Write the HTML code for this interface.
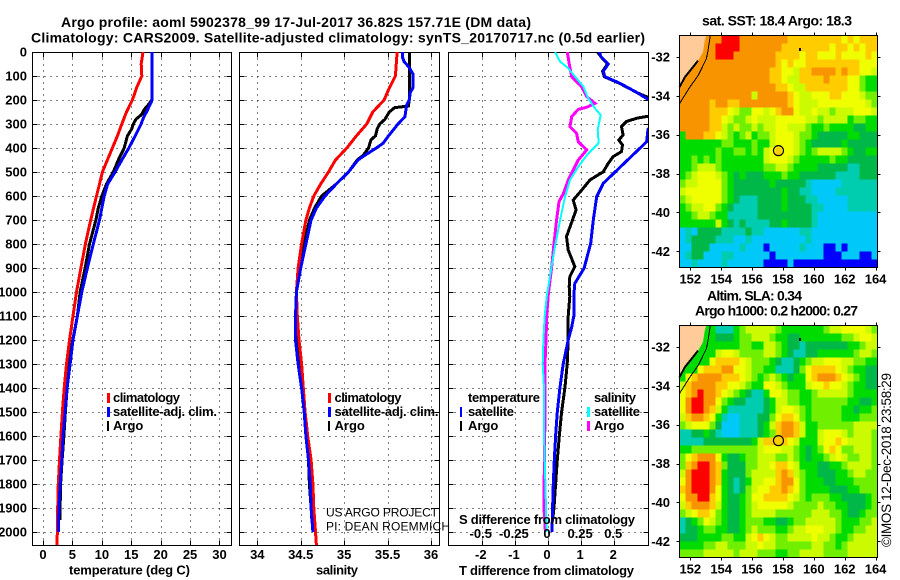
<!DOCTYPE html>
<html lang="en">
<head>
<meta charset="utf-8">
<title>Argo profile chart</title>
<style>
html,body{margin:0;padding:0;background:#fff;}
svg{display:block;}
text{font-family:"Liberation Sans",sans-serif;fill:#000;}
.b{font-weight:bold;font-size:13px;}
.r{font-weight:normal;font-size:12px;}
.ts{font-weight:normal;font-size:13.5px;}
.t{font-weight:bold;font-size:14px;}
</style>
</head>
<body>
<svg id="chart" xmlns="http://www.w3.org/2000/svg" width="900" height="580" viewBox="0 0 900 580">
  <defs>
    <clipPath id="clip-t"><rect x="33" y="52" width="198" height="493"/></clipPath>
    <clipPath id="clip-s"><rect x="240" y="52" width="199" height="493"/></clipPath>
    <clipPath id="clip-d"><rect x="449" y="52" width="199" height="493"/></clipPath>
  </defs>
  <rect x="0" y="0" width="900" height="580" fill="#fff"/>
  <g id="panels"></g>

  <text class="t" x="61" y="27" textLength="470">Argo profile: aoml 5902378_99 17-Jul-2017 36.82S 157.71E (DM data)</text>
  <text class="t" x="31" y="42.5" textLength="614">Climatology: CARS2009. Satellite-adjusted climatology: synTS_20170717.nc (0.5d earlier)</text>

  <text class="b" x="69" y="574.5" textLength="121">temperature (deg C)</text>
  <text class="b" x="316" y="574.5" textLength="42">salinity</text>
  <text class="b" x="459" y="575" textLength="175">T difference from climatology</text>
  <text class="b" x="459" y="524" textLength="176">S difference from climatology</text>

  <g>
    <rect x="107" y="393" width="3" height="10" fill="#ff0000"/>
    <rect x="107" y="407" width="3" height="10" fill="#0000ff"/>
    <rect x="107" y="421" width="2" height="10" fill="#000"/>
    <text class="b" x="113" y="402" textLength="67">climatology</text>
    <text class="b" x="113" y="416" textLength="104">satellite-adj. clim.</text>
    <text class="b" x="113" y="430">Argo</text>
  </g>
  <g>
    <rect x="328" y="393" width="3" height="10" fill="#ff0000"/>
    <rect x="328" y="407" width="3" height="10" fill="#0000ff"/>
    <rect x="328" y="421" width="2" height="10" fill="#000"/>
    <text class="b" x="334.5" y="402" textLength="67">climatology</text>
    <text class="b" x="334.5" y="416" textLength="104">satellite-adj. clim.</text>
    <text class="b" x="334.5" y="430">Argo</text>
  </g>
  <g>
    <text class="b" x="468" y="402" textLength="72">temperature</text>
    <text class="b" x="468" y="416" textLength="46">satellite</text>
    <text class="b" x="468" y="430">Argo</text>
    <rect x="460" y="407" width="2" height="10" fill="#0000ff"/>
    <rect x="460" y="421" width="2" height="10" fill="#000"/>
    <text class="b" x="594" y="402" textLength="42">salinity</text>
    <text class="b" x="594" y="416" textLength="46">satellite</text>
    <text class="b" x="594" y="430">Argo</text>
    <rect x="587" y="407" width="3" height="10" fill="#00ffff"/>
    <rect x="587" y="421" width="3" height="10" fill="#ff00ff"/>
  </g>

  <text class="r" x="326" y="516.5" textLength="112">US ARGO PROJECT</text>
  <text class="r" x="326" y="530.5" textLength="124">PI: DEAN ROEMMICH</text>

  <text class="t" x="702" y="25.5" textLength="150">sat. SST: 18.4 Argo: 18.3</text>
  <text class="t" x="707" y="300.5" textLength="95">Altim. SLA: 0.34</text>
  <text class="t" x="695" y="315.5" textLength="163">Argo h1000: 0.2 h2000: 0.27</text>
  <text class="ts" transform="translate(891,547) rotate(-90)" textLength="174">©IMOS 12-Dec-2018 23:58:29</text>
</svg>
<script>
// ---------- profile data (depth in m) ----------
const depthTicks = [0,100,200,300,400,500,600,700,800,900,1000,1100,1200,1300,1400,1500,1600,1700,1800,1900,2000];
const tempTicks = [0,5,10,15,20,25,30];
const salTicks = [34,34.5,35,35.5,36];
const salTickLabels = ['34','34.5','35','35.5','36'];
const tDiffTicks = [-2,-1,0,1,2];
const tDiffLabels = ['-2','-1','0','1','2'];
const sDiffTicks = [-0.5,-0.25,0,0.25,0.5];
const sDiffLabels = ['-0.5','-0.25','0','0.25','0.5'];

const climTempDepth = [0,50,100,150,200,250,300,350,400,450,500,550,600,700,800,900,1000,1100,1200,1300,1400,1500,1600,1700,1800,1900,2000,2055];
const climTemp = [17.0,16.7,16.8,15.9,15.2,14.2,13.4,12.65,11.8,10.95,10.1,9.6,9.1,8.1,7.2,6.45,5.7,5.1,4.5,4.0,3.6,3.3,3.05,2.8,2.6,2.5,2.45,2.35];
const satTempDepth = [0,200,210,250,275,300,350,400,450,500,550,600,700,800,900,1000,1100,1200,1300,1400,1500,1600,1700,1800,1900,2000];
const satTemp = [18.5,18.5,18.4,17.6,17.05,16.7,15.65,14.6,13.4,12.25,11,10.4,9.6,8.55,7.55,6.6,5.85,5.1,4.6,4.1,3.75,3.4,3.2,2.9,2.7,2.6];
const argoTempDepth = [0,200,220,240,260,280,300,320,350,400,450,500,550,600,650,700,800,900,1000,1100,1200,1300,1400,1500,1600,1700,1800,1900,1950];
const argoTemp = [18.5,18.5,17.9,17.2,16.8,15.8,15.35,15.1,14.35,13.8,12.8,11.95,10.8,10,9.4,9,7.9,7.15,6.3,5.85,5.05,4.35,4.1,3.8,3.55,3.25,3.0,2.9,2.85];

const climSalDepth = [0,100,150,200,250,300,350,400,450,500,550,600,650,700,800,900,1000,1100,1200,1300,1400,1500,1600,1700,1800,1900,2000,2055];
const climSal = [35.61,35.59,35.52,35.46,35.33,35.26,35.14,35.03,34.9,34.82,34.73,34.65,34.6,34.56,34.51,34.47,34.45,34.46,34.48,34.51,34.53,34.55,34.58,34.62,34.64,34.65,34.67,34.68];
const satSalDepth = [0,20,40,60,90,120,150,170,200,220,270,300,350,380,400,430,450,500,550,600,650,700,800,900,1000,1100,1200,1300,1400,1500,1600,1700,1800,1900,2000];
const satSal = [35.67,35.67,35.69,35.74,35.79,35.79,35.79,35.76,35.75,35.72,35.7,35.62,35.51,35.45,35.37,35.24,35.16,35.05,34.91,34.78,34.68,34.62,34.56,34.5,34.45,34.44,34.44,34.47,34.51,34.54,34.56,34.59,34.61,34.62,34.64];
const argoSalDepth = [0,150,200,225,232,250,280,300,320,350,365,400,430,450,500,550,600,650,700,800,900,1000,1100,1200,1300,1400,1500,1600,1700,1800,1900,1960];
const argoSal = [35.75,35.75,35.75,35.74,35.58,35.52,35.47,35.41,35.38,35.36,35.31,35.28,35.22,35.15,35.05,34.91,34.74,34.66,34.6,34.54,34.49,34.45,34.45,34.45,34.49,34.51,34.54,34.57,34.59,34.6,34.62,34.63];

const dSatTempDepth = [0,20,50,80,103,130,170,200,250,300,322,374,547,603,700,797,901,964,999,1100,1150,1200,1300,1400,1500,1600,1700,1800,1900,2000];
const dSatTemp = [1.55,1.6,1.82,1.67,1.72,2.17,2.7,3.05,3.4,3.3,3.02,2.98,1.67,1.47,1.37,1.29,1.09,0.81,0.79,0.78,0.71,0.61,0.46,0.36,0.28,0.23,0.19,0.16,0.14,0.12];
const dArgoTempDepth = [0,20,50,80,103,130,170,200,230,267,276,290,311,346,367,387,415,436,464,499,533,575,617,658,700,769,825,894,936,978,1019,1100,1200,1300,1400,1500,1600,1700,1800,1900,1950];
const dArgoTemp = [1.5,1.6,1.8,1.65,1.7,2.15,2.7,3.2,3.4,3.05,2.68,2.37,2.22,2.27,2.14,2.25,2.22,1.97,1.82,1.67,1.27,1.02,0.76,0.85,0.74,0.56,0.61,0.81,0.66,0.64,0.66,0.61,0.61,0.58,0.51,0.41,0.34,0.28,0.23,0.18,0.14];
const dArgoSalDepth = [0,51,103,144,186,214,230,239,269,311,339,374,408,450,533,589,624,700,797,894,1005,1100,1200,1300,1400,1500,1600,1700,1800,1900,2000];
const dArgoSal = [0.146,0.161,0.179,0.254,0.292,0.355,0.292,0.229,0.179,0.166,0.216,0.229,0.292,0.229,0.153,0.116,0.083,0.065,0.045,0.028,0.003,-0.01,-0.015,-0.023,-0.023,-0.023,-0.025,-0.025,-0.03,-0.03,-0.02];
const dSatSalDepth = [0,40,68,103,144,186,230,262,325,380,422,478,533,603,700,811,908,1019,1100,1200,1300,1400,1500,1600,1700,1800,1900,2000];
const dSatSal = [0.053,0.091,0.153,0.204,0.267,0.297,0.347,0.397,0.375,0.382,0.304,0.229,0.166,0.128,0.091,0.053,0.023,-0.01,-0.025,-0.035,-0.04,-0.03,-0.03,-0.03,-0.025,-0.02,-0.015,-0.01];

// ---------- map data: one hex digit per cell = colour level ----------
const lonTicks = [152,154,156,158,160,162,164];
const latTicks = [-32,-34,-36,-38,-40,-42];
const floatLon = 157.71;
const floatLat = -36.82;
const sstRows = [
"9999999aaa9 99999998888 88888787888",
"999999aaaa9 99999988888 88878878788",
"999999aaa99 99999888878 87778777787",
"99999999999 99999878778 88888888777",
"99999999999 99998877688 99998988776",
"99999999999 99998876688 88988877544",
"99999999999 99999887668 88888877544",
"99999999999 96999998766 77788777655",
"99999899889 99999998766 67777777765",
"99999888765 57767899766 76656667776",
"99999887655 67666777776 65666645544",
"99999886565 56566776665 44544443344",
"49998876545 64556777655 43333344333",
"44444445544 45446777654 33333433333",
"44444454455 45467877654 56666543344",
"44545454444 44467776544 44454433333",
"44566654444 44455665444 43333322333",
"45677765434 33344454433 33332222333",
"56677775433 33334333332 11111222222",
"67777775433 33333343322 11112222222",
"56777775432 22333343332 21111122222",
"45667754322 22333343333 22111122222",
"44566544222 22333333333 21111111111",
"44444464323 22223343333 21111111111",
"12133332222 32211111122 11111111111",
"12333322211 21111111112 11111111111",
"11333111112 11101111121 11001011111",
"12331112211 11110111111 11000111001",
"11211112111 11100001000 00000000000"
];
const slaRows = [
"44444422245 66666544444 44566777765",
"44444433345 56665443344 44444556776",
"44444444445 54466543323 33333344566",
"44444467765 55566543223 34444445665",
"44444788887 65554322345 66777665544",
"44478889977 65544222357 88887654433",
"47899998887 65456543447 89998765433",
"68999988776 54477654446 77877654433",
"789a9987654 32247765544 56666654444",
"79aa9975433 22234665544 55555544334",
"79aa9864222 22234677654 55555443445",
"68998742112 22335788754 55555444555",
"56777531112 22346899864 45555556666",
"22334321112 22345899864 46777656665",
"22223333333 34688887644 46778766665",
"44555555555 55677766543 45787556665",
"57899974334 55666556543 44567655665",
"589aa985333 55667887644 43344566665",
"69aaa984333 56666898654 43334456655",
"79aaa984323 46677899754 44334445555",
"89aaa974323 56778898754 44433344555",
"799aa874334 57788887654 55544333345",
"68999864334 56777776555 56554433345",
"56788754334 56666555555 66655433455",
"23457654334 55544334556 66665444556",
"23345544334 56555445667 77665445566",
"33344445544 67876556666 76654456666",
"44445566555 66766555555 66554566666",
"55556666656 66555445566 66555566666"
];
const colourLevels = ['#0000ff','#00c8f8','#00ccb0','#00b848','#00dc00','#70f000','#ccfa00','#f0ff00','#ffcc00','#f79400','#ff0000'];

// ---------- axis functions ----------
const depthY = d => 52 + d * 0.24;
const tempX = v => 43 + v * 5.883;
const salX = v => 257.3 + (v - 34) * 86.85;
const tDiffX = v => 548 + v * 33.1;
const sDiffX = v => 548 + v * 132.5;
const lonX = v => 690.3 + (v - 152) * 15.44;
const lat1Y = v => 57 + (-32 - v) * 19.43;
const lat2Y = v => 347 + (-32 - v) * 19.43;

// ---------- drawing ----------
const NS = 'http://www.w3.org/2000/svg';
const root = document.getElementById('panels');
function make(tag, parent) {
  const el = document.createElementNS(NS, tag);
  parent.appendChild(el);
  return el;
}
function seg(parent, x1, y1, x2, y2, dash, name) {
  const l = make('line', parent);
  l.setAttribute('x1', x1);
  l.setAttribute('y1', y1);
  l.setAttribute('x2', x2);
  l.setAttribute('y2', y2);
  l.setAttribute('stroke', '#000');
  l.setAttribute('stroke-width', 1);
  l.setAttribute('shape-rendering', 'crispEdges');
  if (dash) l.setAttribute('stroke-dasharray', '1 5');
  
  
  return l;
}
function label(parent, x, y, str, anchor, name) {
  const t = make('text', parent);
  t.setAttribute('class', 'b');
  t.setAttribute('x', x);
  t.setAttribute('y', y);
  t.setAttribute('text-anchor', anchor);
  t.textContent = str;
  
  
  return t;
}
function profilePanel(L, R, xFn, xTicks, name) {
  const g = make('g', root);
  
  
  const T = 52.5, B = 545.5;
  xTicks.forEach(v => {
    const x = Math.round(xFn(v)) + 0.5;
    seg(g, x, T, x, B, true, 'vertical-grid-line');
    seg(g, x, T, x, T + 5, false, 'top-tick');
    seg(g, x, B - 5, x, B, false, 'bottom-tick');
  });
  depthTicks.forEach(d => {
    if (d === 0) return;
    const y = Math.round(depthY(d)) + 0.5;
    seg(g, L, y, R, y, true, 'horizontal-grid-line');
    seg(g, L, y, L + 5, y, false, 'left-tick');
    seg(g, R - 5, y, R, y, false, 'right-tick');
  });
  const f = make('rect', g);
  f.setAttribute('x', L);
  f.setAttribute('y', T);
  f.setAttribute('width', R - L);
  f.setAttribute('height', B - T);
  f.setAttribute('fill', 'none');
  f.setAttribute('stroke', '#000');
  f.setAttribute('shape-rendering', 'crispEdges');
  
  
  return g;
}
function curve(parent, depths, values, xFn, colour, width, clip, name) {
  const p = make('polyline', parent);
  p.setAttribute('points', depths.map((d, i) => xFn(values[i]).toFixed(1) + ',' + depthY(d).toFixed(1)).join(' '));
  p.setAttribute('fill', 'none');
  p.setAttribute('stroke', colour);
  p.setAttribute('stroke-width', width);
  p.setAttribute('shape-rendering', 'crispEdges');
  p.setAttribute('clip-path', 'url(#' + clip + ')');
  
  
}

const tPanel = profilePanel(32.5, 231.5, tempX, tempTicks, 'temperature-panel');
curve(tPanel, argoTempDepth, argoTemp, tempX, '#000', 3, 'clip-t', 'argo-temperature-line');
curve(tPanel, climTempDepth, climTemp, tempX, '#ff0000', 3, 'clip-t', 'climatology-temperature-line');
curve(tPanel, satTempDepth, satTemp, tempX, '#0000ff', 3, 'clip-t', 'satellite-temperature-line');

const sPanel = profilePanel(239.5, 439.5, salX, salTicks, 'salinity-panel');
curve(sPanel, argoSalDepth, argoSal, salX, '#000', 3, 'clip-s', 'argo-salinity-line');
curve(sPanel, climSalDepth, climSal, salX, '#ff0000', 3, 'clip-s', 'climatology-salinity-line');
curve(sPanel, satSalDepth, satSal, salX, '#0000ff', 3, 'clip-s', 'satellite-salinity-line');

const dPanel = profilePanel(448.5, 648.5, tDiffX, tDiffTicks, 'difference-panel');
curve(dPanel, dArgoTempDepth, dArgoTemp, tDiffX, '#000', 3, 'clip-d', 'argo-t-difference-line');
curve(dPanel, dSatTempDepth, dSatTemp, tDiffX, '#0000ff', 3, 'clip-d', 'satellite-t-difference-line');
curve(dPanel, dArgoSalDepth, dArgoSal, sDiffX, '#ff00ff', 3, 'clip-d', 'argo-s-difference-line');
curve(dPanel, dSatSalDepth, dSatSal, sDiffX, '#00ffff', 2, 'clip-d', 'satellite-s-difference-line');

const axisLabels = make('g', root);


depthTicks.forEach(d => {
  label(axisLabels, 27, depthY(d) + 4.5, String(d), 'end', 'depth-tick-label');
});
tempTicks.forEach(v => {
  label(axisLabels, tempX(v), 559, String(v), 'middle', 'temperature-tick-label');
});
salTicks.forEach((v, i) => {
  label(axisLabels, salX(v), 559, salTickLabels[i], 'middle', 'salinity-tick-label');
});
tDiffTicks.forEach((v, i) => {
  label(axisLabels, tDiffX(v) - 1, 559, tDiffLabels[i], 'middle', 't-difference-tick-label');
});
sDiffTicks.forEach((v, i) => {
  label(axisLabels, sDiffX(v) - 1, 538, sDiffLabels[i], 'middle', 's-difference-tick-label');
});

function drawMap(rows, top, latY, name) {
  const L = 679.5, R = 877.5, B = top + 232, cw = 6, ch = 8;
  const g = make('g', root);
  
  
  rows.forEach((row, r) => {
    const cells = row.split(' ').join('');
    for (let c = 0; c < cells.length; c++) {
      const cell = make('rect', g);
      cell.setAttribute('x', L + c * cw);
      cell.setAttribute('y', top + r * ch);
      cell.setAttribute('width', cw);
      cell.setAttribute('height', ch);
      cell.setAttribute('fill', colourLevels[parseInt(cells[c], 16)]);
      cell.setAttribute('shape-rendering', 'crispEdges');
      
      
    }
  });
  const dy = top - 35.5;
  const coastPts = [[706.3,35.5],[704.7,40.7],[703,52],[698,60.7],[693,67],[688,73.3],[684.7,77.3],[679.5,87.3]];
  const land = make('polygon', g);
  land.setAttribute('points', [[679.5,35.5]].concat(coastPts).map(p => p[0] + ',' + (p[1] + dy)).join(' '));
  land.setAttribute('fill', '#ffcc99');
  
  
  const coast = make('polyline', g);
  coast.setAttribute('points', coastPts.slice(3).map(p => p[0] + ',' + (p[1] + dy)).join(' '));
  coast.setAttribute('fill', 'none');
  coast.setAttribute('stroke', '#000');
  coast.setAttribute('stroke-width', 2);
  coast.setAttribute('shape-rendering', 'crispEdges');
  
  
  const iso = make('polyline', g);
  iso.setAttribute('points', [[710.3,35.5],[708,50.7],[706.3,59],[698,75.7],[689.7,87.3],[679.7,103.3]].map(p => p[0] + ',' + (p[1] + dy)).join(' '));
  iso.setAttribute('fill', 'none');
  iso.setAttribute('stroke', '#000');
  iso.setAttribute('stroke-width', 1);
  iso.setAttribute('shape-rendering', 'crispEdges');
  
  
  const speck = make('rect', g);
  speck.setAttribute('x', 799);
  speck.setAttribute('y', 48 + dy);
  speck.setAttribute('width', 2);
  speck.setAttribute('height', 3);
  speck.setAttribute('fill', '#000');
  
  
  const circle = make('circle', g);
  circle.setAttribute('cx', lonX(floatLon));
  circle.setAttribute('cy', latY(floatLat));
  circle.setAttribute('r', 5);
  circle.setAttribute('fill', 'none');
  circle.setAttribute('stroke', '#000');
  circle.setAttribute('stroke-width', 1.2);
  
  
  const f = make('rect', g);
  f.setAttribute('x', L);
  f.setAttribute('y', top);
  f.setAttribute('width', R - L);
  f.setAttribute('height', B - top);
  f.setAttribute('fill', 'none');
  f.setAttribute('stroke', '#000');
  f.setAttribute('shape-rendering', 'crispEdges');
  
  
  lonTicks.forEach(v => {
    const x = Math.round(lonX(v)) + 0.5;
    seg(g, x, top - 3, x, top, false, 'map-top-tick');
    seg(g, x, B, x, B + 3, false, 'map-bottom-tick');
    label(g, lonX(v), B + 16, String(v), 'middle', 'longitude-tick-label');
  });
  latTicks.forEach(v => {
    const y = Math.round(latY(v)) + 0.5;
    seg(g, L - 3, y, L, y, false, 'map-left-tick');
    seg(g, R, y, R + 3, y, false, 'map-right-tick');
    label(g, 670, latY(v) + 4.5, String(v), 'end', 'latitude-tick-label');
  });
}
drawMap(sstRows, 35.5, lat1Y, 'sst-map');
drawMap(slaRows, 325.5, lat2Y, 'sla-map');
</script>
</body>
</html>
